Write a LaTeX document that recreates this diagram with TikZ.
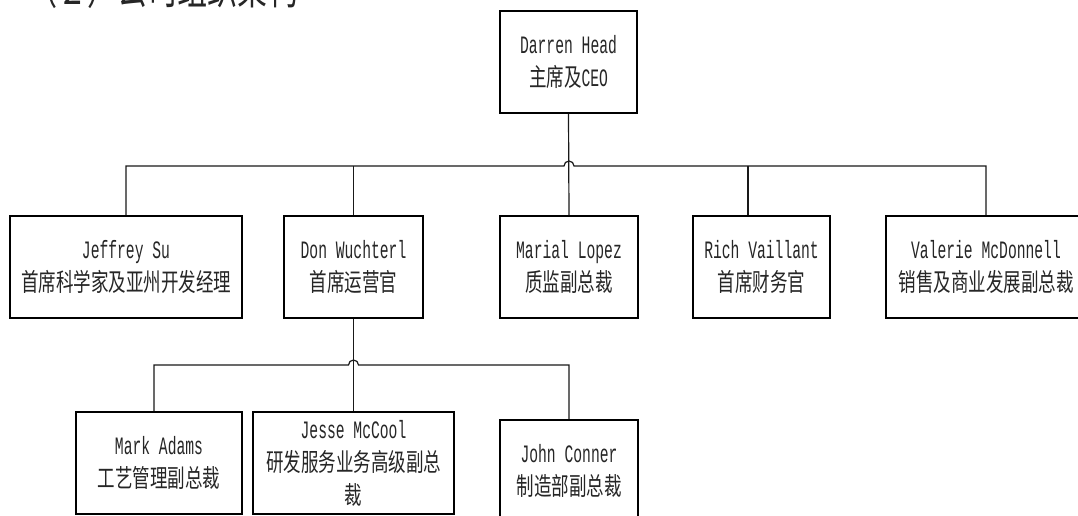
\documentclass[tikz,border=0pt]{standalone}
\usepackage{fontspec}
\newfontfamily\lat[FakeStretch=0.587]{Liberation Mono}
\newfontfamily\cjk[FakeStretch=0.70]{Noto Sans CJK SC}
\usetikzlibrary{calc}
\begin{document}
\begin{tikzpicture}[x=1pt,y=-1pt,
  box/.style={draw=black, line width=1.6pt, minimum height=102pt, inner sep=0pt,
    align=center, font=\fontsize{25}{33}\selectfont, text=black!85},
  conn/.style={draw=black!90, line width=1.2pt}]
\useasboundingbox (0,0) rectangle (1078,516);
\clip (0,0) rectangle (1078,516);
\fill[white] (0,0) rectangle (1078,516);

\node[anchor=base west, inner sep=0pt, font=\cjk\fontsize{43}{43}\selectfont, text=black!85] (title) at (27,5) {（２）公司组织架构};

\node[box, minimum width=137pt] (ceo) at (568.5,62) {{\lat Darren Head}\\{\cjk 主席及}{\lat CEO}};

\node[box, minimum width=232pt] (jef) at (126,267) {{\lat Jeffrey Su}\\{\cjk 首席科学家及亚州开发经理}};
\node[box, minimum width=139pt] (don) at (353.5,267) {{\lat Don Wuchterl}\\{\cjk 首席运营官}};
\node[box, minimum width=138pt] (mar) at (569,267) {{\lat Marial Lopez}\\{\cjk 质监副总裁}};
\node[box, minimum width=137pt] (ric) at (761.5,267) {{\lat Rich Vaillant}\\{\cjk 首席财务官}};
\node[box, minimum width=200pt] (val) at (986,267) {{\lat Valerie McDonnell}\\{\cjk 销售及商业发展副总裁}};

\node[box, minimum width=166pt] (mrk) at (159,463) {{\lat Mark Adams}\\{\cjk 工艺管理副总裁}};
\node[box, minimum width=201pt] (jes) at (353.5,463) {{\lat Jesse McCool}\\{\cjk 研发服务业务高级副总}\\{\cjk 裁}};
\node[box, minimum width=138pt] (joh) at (569,471) {{\lat John Conner}\\{\cjk 制造部副总裁}};

\coordinate (bus) at (569,166);
\draw[conn] (ceo.south) -- (mar.north);
\draw[conn] (jef.north) |- ([xshift=-5pt]bus) arc[start angle=180, end angle=0, radius=5pt] -| (val.north);
\draw[conn] (don.north) -- (don.north |- bus);
\draw[conn] ([xshift=-13.5pt]ric.north) -- ([xshift=-13.5pt]ric.north |- bus);

\coordinate (sub) at (353.5,365);
\draw[conn] (don.south) -- (jes.north);
\draw[conn] ([xshift=-5pt]mrk.north) |- ([xshift=-5pt]sub) arc[start angle=180, end angle=0, radius=5pt] -| (joh.north);
\end{tikzpicture}
\end{document}
